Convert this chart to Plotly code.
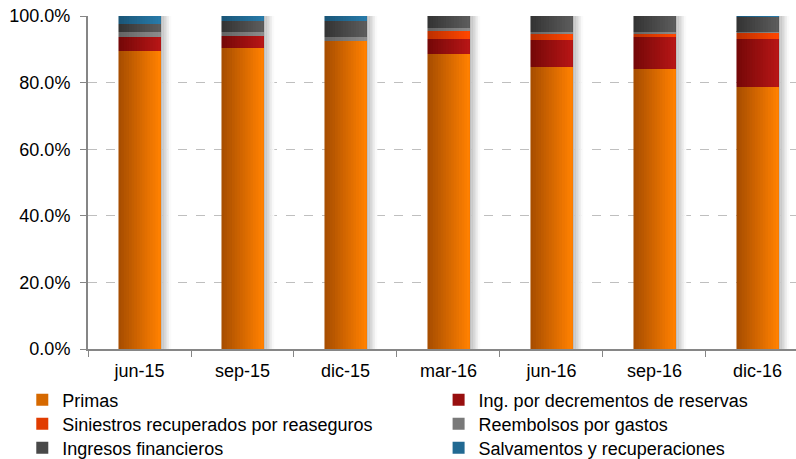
import plotly.graph_objects as go

periodos = ["jun-15", "sep-15", "dic-15", "mar-16", "jun-16", "sep-16", "dic-16"]

primas = [89.5, 90.4, 92.5, 88.6, 84.7, 84.1, 78.7]
ing_decrementos = [4.2, 3.6, 0.0, 4.5, 8.1, 9.6, 14.4]
siniestros_reaseguro = [0.0, 0.0, 0.0, 2.4, 1.8, 0.9, 1.8]
reembolsos_gastos = [1.5, 1.2, 1.2, 0.9, 0.6, 0.6, 0.3]
ingresos_financieros = [2.4, 3.3, 4.8, 3.6, 4.8, 4.8, 4.5]
salvamentos = [2.4, 1.5, 1.5, 0.0, 0.0, 0.0, 0.3]

# nombre, valores, color izq, color der, (columna, fila) de la leyenda
series = [
    ("Primas", primas, (168, 78, 0), (255, 128, 0), (0, 0)),
    ("Ing. por decrementos de reservas", ing_decrementos, (118, 8, 8), (182, 22, 22), (1, 0)),
    ("Siniestros recuperados por reaseguros", siniestros_reaseguro, (190, 48, 0), (255, 70, 0), (0, 1)),
    ("Reembolsos por gastos", reembolsos_gastos, (100, 100, 100), (140, 140, 140), (1, 1)),
    ("Ingresos financieros", ingresos_financieros, (52, 52, 52), (92, 92, 92), (0, 2)),
    ("Salvamentos y recuperaciones", salvamentos, (26, 86, 120), (40, 122, 168), (1, 2)),
]

total = [sum(v) for v in zip(*[s[1] for s in series])]

ANCHO = 0.408   # ancho de barra en unidades de categoria
N = 16          # franjas para el degradado
paso = ANCHO / N


def mezcla(c1, c2, t):
    return "rgb(%d,%d,%d)" % tuple(round(a + (b - a) * t) for a, b in zip(c1, c2))


fig = go.Figure()

# sombra a la derecha de cada barra
for k in range(6):
    fig.add_trace(go.Bar(
        x=periodos, y=[1.0] * len(periodos), base=0,
        width=0.02, offset=ANCHO / 2 + k * 0.017,
        marker=dict(color=mezcla((190, 190, 190), (250, 250, 250), k / 5), line=dict(width=0)),
        showlegend=False, hoverinfo="skip",
    ))

leyendas = {}
acumulado = [0.0] * len(periodos)
for i, (nombre, valores, c1, c2, (col, fila)) in enumerate(series):
    ley = "legend" if i == 0 else "legend%d" % (i + 1)
    leyendas[ley] = dict(
        orientation="v", xref="container", yref="container",
        xanchor="left", yanchor="top",
        x=[0.028, 0.551][col], y=[0.169, 0.1167, 0.0644][fila],
        font=dict(size=18), bgcolor="rgba(0,0,0,0)",
    )
    frac = [v / t for v, t in zip(valores, total)]
    for k in range(N):
        fig.add_trace(go.Bar(
            name=nombre, x=periodos, y=frac, base=list(acumulado),
            width=ANCHO - k * paso, offset=-ANCHO / 2 + k * paso,
            marker=dict(color=mezcla(c1, c2, k / (N - 1)), line=dict(width=0)),
            showlegend=(k == N // 2), legend=ley, legendgroup=nombre,
        ))
    acumulado = [a + f for a, f in zip(acumulado, frac)]

fig.update_layout(
    barmode="overlay",
    width=796, height=459,
    margin=dict(l=88, r=0, t=16, b=110, autoexpand=False),
    plot_bgcolor="white", paper_bgcolor="white",
    font=dict(family="Liberation Sans, Arial", size=18, color="#000000"),
    showlegend=True,
    **leyendas,
)
fig.update_xaxes(
    range=[-0.5, 6.374], showline=True, linecolor="#868686", linewidth=2,
    ticks="outside", tickson="boundaries", ticklen=6, tickcolor="#868686",
    showgrid=False, ticklabelstandoff=4, tickangle=0,
)
fig.update_yaxes(
    range=[0, 1], tickformat=".1%", dtick=0.2,
    showline=True, linecolor="#868686", linewidth=2,
    ticks="outside", ticklen=6, tickcolor="#868686",
    showgrid=True, gridcolor="#BFBFBF", griddash="dash", gridwidth=1,
    zeroline=False, ticklabelstandoff=6,
)

fig.write_html("out.html", config={"displayModeBar": False},
               post_script="document.body.style.margin='0';")
